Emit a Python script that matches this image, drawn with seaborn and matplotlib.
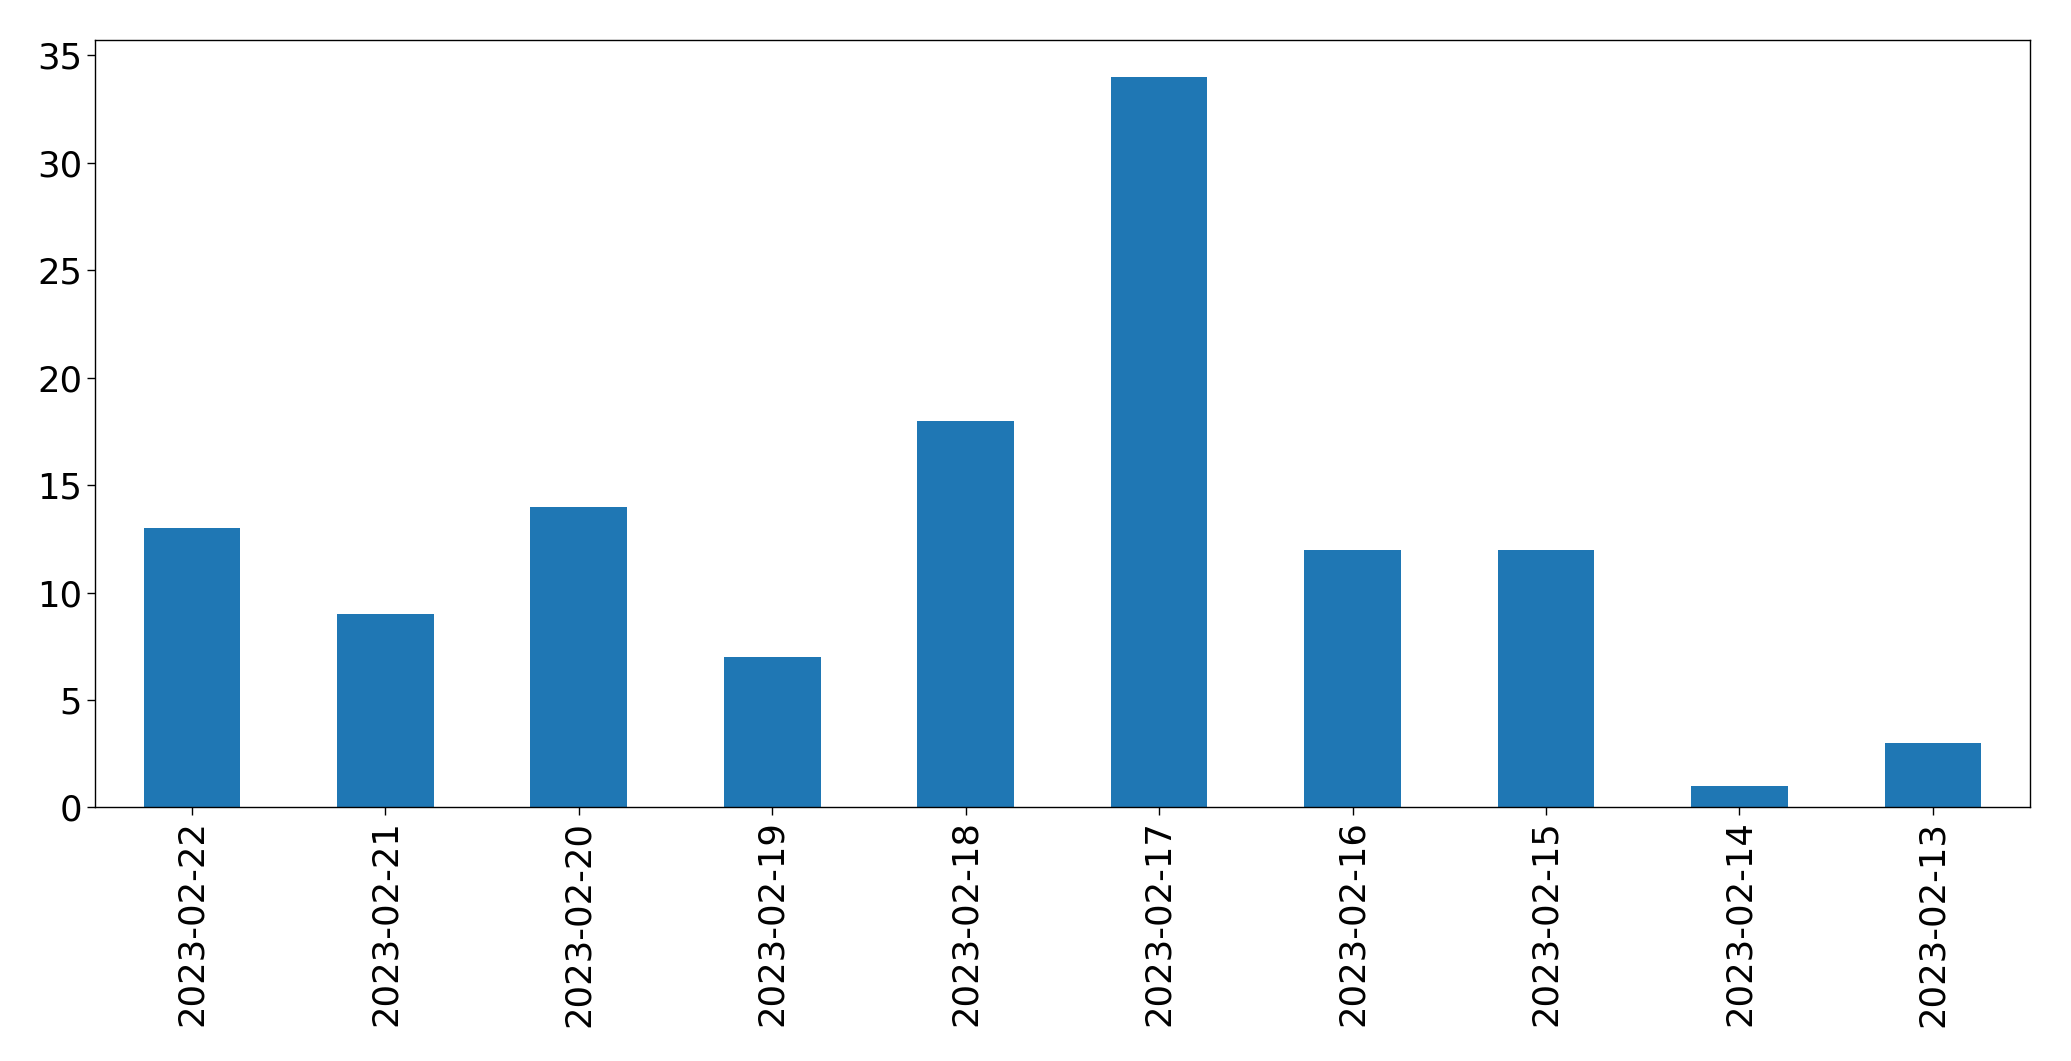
import pandas as pd
import numpy as np

import seaborn as sns
import matplotlib.pyplot as plt

dates = ["2023-02-22", "2023-02-21", "2023-02-20", "2023-02-19", "2023-02-18",
         "2023-02-17", "2023-02-16", "2023-02-15", "2023-02-14", "2023-02-13"]
counts = [13, 9, 14, 7, 18, 34, 12, 12, 1, 3]


def main():
    sns.set_style("white")
    plt.rcParams['font.family'] = ['DejaVu Sans']

    df = pd.DataFrame({'date': dates, 'count': counts})

    fig, ax = plt.subplots(figsize=(20.71, 10.61), dpi=100)
    sns.barplot(data=df, x='date', y='count', color='#1f77b4', saturation=1,
                width=0.5, linewidth=0, ax=ax)

    ax.set_xlabel("")
    ax.set_ylabel("")
    ax.set_xlim(-0.5, len(dates) - 0.5)
    ax.set_ylim(0, 35.7)
    ax.tick_params(axis='x', labelrotation=90, labelsize=25.5, length=6, width=1,
                   bottom=True, colors='black')
    ax.tick_params(axis='y', labelsize=25.5, length=6, width=1, left=True,
                   colors='black')
    for s in ax.spines.values():
        s.set_visible(True)
        s.set_color('black')
        s.set_linewidth(1)

    plt.subplots_adjust(left=0.046, right=0.980, top=0.962, bottom=0.239)
    plt.savefig("out.png")


if __name__ == "__main__":
    main()
